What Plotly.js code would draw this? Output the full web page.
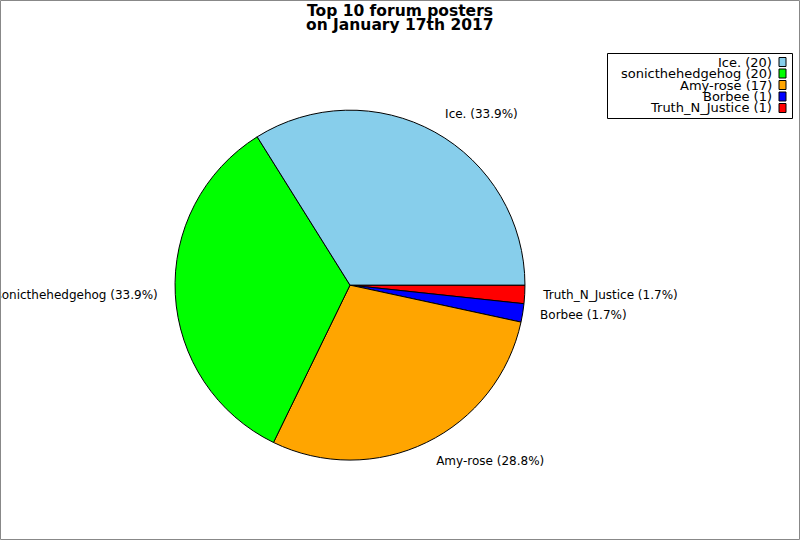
<!DOCTYPE html>
<html>
<head>
<meta charset="utf-8">
<script src="https://cdn.plot.ly/plotly-3.0.1.min.js"></script>
<style>html,body{margin:0;padding:0;background:#fff;}#chart{width:800px;height:540px;}</style>
</head>
<body>
<div id="chart"></div>
<script>
const labels = ["Ice.", "sonicthehedgehog", "Amy-rose", "Borbee", "Truth_N_Justice"];
const counts = [20, 20, 17, 1, 1];
const colors = ["#87CEEB", "#00FF00", "#FFA500", "#0000FF", "#FF0000"];
const titleLines = ["Top 10 forum posters", "on January 17th 2017"];

const FONT = "DejaVu Sans, sans-serif";

// pie drawn counterclockwise from 3 o'clock: equivalent to reversed order drawn clockwise
const revLabels = labels.slice().reverse();
const revCounts = counts.slice().reverse();
const revColors = colors.slice().reverse();

// visible wedges
const pieTrace = {
  type: "pie",
  labels: revLabels,
  values: revCounts,
  sort: false,
  direction: "clockwise",
  rotation: 90,
  marker: { colors: revColors, line: { color: "#000", width: 1 } },
  textinfo: "none",
  showlegend: false,
  hoverinfo: "skip",
  domain: { x: [0.21875, 0.65625], y: [0.148, 0.796] }
};

// transparent, slightly larger copy used only to carry the outside labels further out
const labelTrace = {
  type: "pie",
  labels: revLabels,
  values: revCounts,
  sort: false,
  direction: "clockwise",
  rotation: 90,
  marker: { colors: revColors.map(() => "rgba(0,0,0,0)"), line: { width: 0 } },
  textposition: "outside",
  texttemplate: "%{label} (%{percent:.1%})",
  textfont: { family: FONT, size: 12, color: "#000" },
  showlegend: false,
  hoverinfo: "skip",
  domain: { x: [0.20125, 0.67375], y: [0.1222, 0.8222] }
};

const annotations = [];
const shapes = [];
const W = 800, H = 540;

// title
titleLines.forEach((t, i) => {
  annotations.push({
    xref: "paper", yref: "paper",
    x: 400 / W, y: 1 - (11 + i * 13.5) / H,
    xanchor: "center", yanchor: "middle",
    text: "<b>" + t + "</b>", showarrow: false, borderpad: 0,
    font: { family: FONT, size: 15.5, color: "#000" }
  });
});

// custom legend (text right-aligned, swatch on the right)
const rowY0 = 62, rowStep = 11.5;
labels.forEach((lab, i) => {
  const yc = rowY0 + i * rowStep;
  annotations.push({
    xref: "paper", yref: "paper",
    x: 773 / W, y: 1 - yc / H,
    xanchor: "right", yanchor: "middle",
    text: lab + " (" + counts[i] + ")",
    showarrow: false, borderpad: 0,
    font: { family: FONT, size: 13, color: "#000" }
  });
  shapes.push({
    type: "rect", xref: "paper", yref: "paper",
    x0: 779 / W, x1: 786 / W,
    y0: 1 - (yc + 4.5) / H, y1: 1 - (yc - 4.5) / H,
    fillcolor: colors[i], line: { color: "#000", width: 1 }
  });
});
shapes.push({
  type: "rect", xref: "paper", yref: "paper",
  x0: 607.5 / W, x1: 792.5 / W, y0: 1 - 118.5 / H, y1: 1 - 53.5 / H,
  fillcolor: "rgba(0,0,0,0)", line: { color: "#000", width: 1 }
});
shapes.push({
  type: "rect", xref: "paper", yref: "paper",
  x0: 0.5 / W, x1: 799.5 / W, y0: 0.5 / H, y1: 539.5 / H,
  fillcolor: "rgba(0,0,0,0)", line: { color: "#888", width: 1 }
});

const layout = {
  width: 800, height: 540,
  margin: { l: 0, r: 0, t: 0, b: 0 },
  paper_bgcolor: "#fff",
  annotations: annotations,
  shapes: shapes,
  showlegend: false
};

Plotly.newPlot("chart", [labelTrace, pieTrace], layout, { displayModeBar: false, staticPlot: true });
</script>
</body>
</html>
